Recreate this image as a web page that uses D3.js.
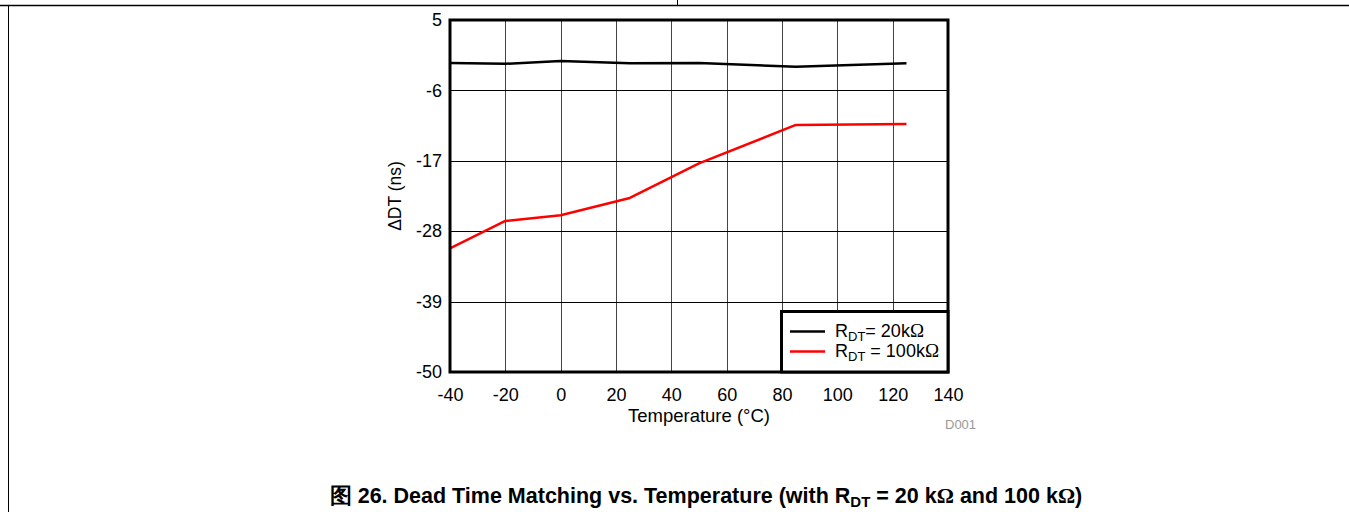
<!DOCTYPE html>
<html><head><meta charset="utf-8">
<script src="https://cdn.jsdelivr.net/npm/d3@7"></script>
<style>
body{margin:0;background:#fff;}
svg{display:block;font-family:"Liberation Sans",Arial,sans-serif;}
</style></head>
<body><svg id="c" width="1349" height="512"></svg>
<script>
const temps = [-40, -20, 0, 25, 50, 85, 125];
const rdt20 = [-1.7, -1.85, -1.4, -1.75, -1.7, -2.3, -1.75];
const rdt100 = [-30.7, -26.4, -25.5, -22.8, -17.4, -11.4, -11.25];
const xTicks = [-40, -20, 0, 20, 40, 60, 80, 100, 120, 140];
const yTicks = [5, -6, -17, -28, -39, -50];
const seriesLabels = [["R", "DT", "= 20k"], ["R", "DT", " = 100k"]];
const seriesColors = ["#000000", "#ff0000"];

const svg = d3.select("#c");
const L = 450, R = 948, T = 20, B = 372;
const x = d3.scaleLinear().domain([-40, 140]).range([L, R]);
const y = d3.scaleLinear().domain([-50, 5]).range([B, T]);
const FONT = "Liberation Sans, Arial, sans-serif";

// page frame
svg.append("line").attr("x1",0).attr("x2",1349).attr("y1",5.5).attr("y2",5.5).attr("stroke","#000").attr("stroke-width",1.5);
svg.append("line").attr("x1",677.5).attr("x2",677.5).attr("y1",0).attr("y2",5.5).attr("stroke","#000").attr("stroke-width",1);
svg.append("line").attr("x1",8.5).attr("x2",8.5).attr("y1",5).attr("y2",512).attr("stroke","#000").attr("stroke-width",1);

// grid
const g = svg.append("g");
g.selectAll(".vx").data(xTicks.slice(1,-1)).enter().append("line")
 .attr("x1",d=>Math.round(x(d))+0.5).attr("x2",d=>Math.round(x(d))+0.5)
 .attr("y1",T).attr("y2",B).attr("stroke","#444").attr("stroke-width",1);
g.selectAll(".hy").data(yTicks.slice(1,-1)).enter().append("line")
 .attr("y1",d=>Math.round(y(d))+0.5).attr("y2",d=>Math.round(y(d))+0.5)
 .attr("x1",L).attr("x2",R).attr("stroke","#000").attr("stroke-width",1);

// axes
const xAxis = d3.axisBottom(x).tickValues(xTicks).tickSize(0).tickPadding(16).tickFormat(d=>String(d));
const xg = svg.append("g").attr("transform",`translate(0,${B})`).call(xAxis);
xg.select(".domain").remove();
xg.selectAll("text").attr("font-size",18).attr("font-family",FONT).attr("fill","#000");

const yAxis = d3.axisLeft(y).tickValues(yTicks).tickSize(0).tickPadding(8).tickFormat(d=>String(d));
const yg = svg.append("g").attr("transform",`translate(${L},0)`).call(yAxis);
yg.select(".domain").remove();
yg.selectAll("text").attr("font-size",18).attr("font-family",FONT).attr("fill","#000");

// series lines
const line = d3.line().x((d,i)=>x(temps[i])).y(d=>y(d));
[rdt20, rdt100].forEach((s,i)=>{
  svg.append("path").datum(s).attr("d",line).attr("fill","none")
   .attr("stroke",seriesColors[i]).attr("stroke-width",2.5).attr("stroke-linejoin","round");
});

// plot border
svg.append("rect").attr("x",L).attr("y",T).attr("width",R-L).attr("height",B-T)
 .attr("fill","none").attr("stroke","#000").attr("stroke-width",3);

// legend
const lg = svg.append("g");
lg.append("rect").attr("x",781.5).attr("y",311.5).attr("width",R-781.5).attr("height",B-311.5)
 .attr("fill","#fff").attr("stroke","#000").attr("stroke-width",3);
const legY = [331.5, 351.5];
seriesLabels.forEach((n,i)=>{
  lg.append("line").attr("x1",790).attr("x2",825).attr("y1",legY[i]).attr("y2",legY[i])
   .attr("stroke",seriesColors[i]).attr("stroke-width",2.5);
  const t = lg.append("text").attr("x",835).attr("y",legY[i]+5.5).attr("font-size",18).attr("fill","#000");
  t.append("tspan").text(n[0]);
  t.append("tspan").attr("font-size",13).attr("dy",4).text(n[1]);
  t.append("tspan").attr("dy",-4).text(n[2]);
  t.append("tspan").attr("font-family","Liberation Serif, serif").attr("font-size",19).text("\u03A9");
});

// axis titles
svg.append("text").attr("x",(L+R)/2).attr("y",422).attr("text-anchor","middle")
 .attr("font-size",18.5).text("Temperature (\u00B0C)");
svg.append("text").attr("transform",`translate(401,${(T+B)/2}) rotate(-90)`).attr("text-anchor","middle")
 .attr("font-size",17.5).text("\u0394DT (ns)");
svg.append("text").attr("x",945).attr("y",429).attr("font-size",13).attr("fill","#999").text("D001");

// caption
const cap = svg.append("text").attr("x",706).attr("y",503).attr("text-anchor","middle")
 .attr("font-size",21.5).attr("font-weight","bold");
cap.append("tspan").text("\u56FE 26. Dead Time Matching vs. Temperature (with R");
cap.append("tspan").attr("font-size",15).attr("dy",4).text("DT");
cap.append("tspan").attr("dy",-4).text(" = 20 k");
cap.append("tspan").attr("font-family","Liberation Serif, serif").text("\u03A9");
cap.append("tspan").text(" and 100 k");
cap.append("tspan").attr("font-family","Liberation Serif, serif").text("\u03A9");
cap.append("tspan").text(")");
</script></body></html>
